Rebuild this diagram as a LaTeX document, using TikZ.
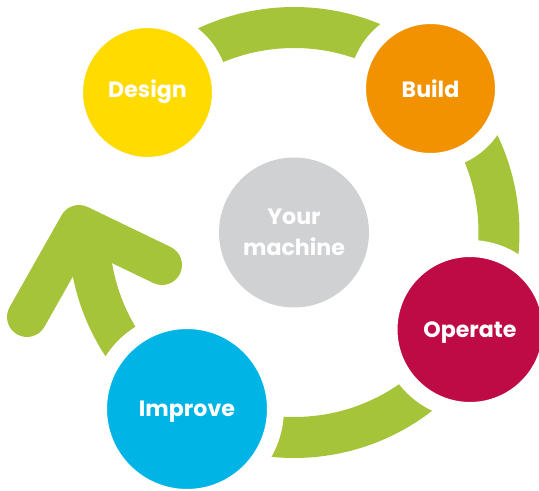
\documentclass[tikz,border=0pt]{standalone}
\usepackage{fontspec}
\setmainfont{Poppins}
\definecolor{cyclegreen}{RGB}{165,196,58}
\definecolor{designyellow}{RGB}{255,219,0}
\definecolor{buildorange}{RGB}{242,146,0}
\definecolor{operatered}{RGB}{190,10,69}
\definecolor{improveblue}{RGB}{0,181,230}
\definecolor{machinegrey}{RGB}{208,209,211}

\tikzset{
  stage/.style={circle, fill=#1, draw=white, line width=0.34cm, inner sep=0pt,
    text=white, text depth=0pt, font=\bfseries\fontsize{12.6}{17.6}\selectfont},
  band/.style={draw=cyclegreen, line width=0.82cm},
}

\begin{document}
\begin{tikzpicture}[x=0.02cm, y=-0.02cm]

  \useasboundingbox (0,0) rectangle (539,491);

  \coordinate (hub) at (294,232.5);

  % green cycle behind the stages
  \draw[band] (hub) ++(-136:205) arc[start angle=-136, end angle=180, radius=205];

  % arrow head
  \coordinate (barbL) at (27,317);
  \coordinate (tip)   at (79,225);
  \coordinate (barbR) at (162,265);
  \draw[band, line width=0.8cm, line cap=round, line join=round] (barbL) -- (tip) -- (barbR);

  \node[stage=designyellow, minimum size=2.92cm, text depth=0.16cm] (design) at (147.5,92.5) {Design};
  \node[stage=buildorange,  minimum size=2.92cm] (build)   at (430.5,88.5) {Build};
  \node[stage=operatered,   minimum size=3.24cm] (operate) at (470,329.5)  {Operate};
  \node[stage=improveblue,  minimum size=3.54cm] (improve) at (187,409)    {Improve};
  \node[stage=machinegrey, draw=none, minimum size=3cm, align=center] (machine) at (hub) {Your\\machine};

\end{tikzpicture}
\end{document}
